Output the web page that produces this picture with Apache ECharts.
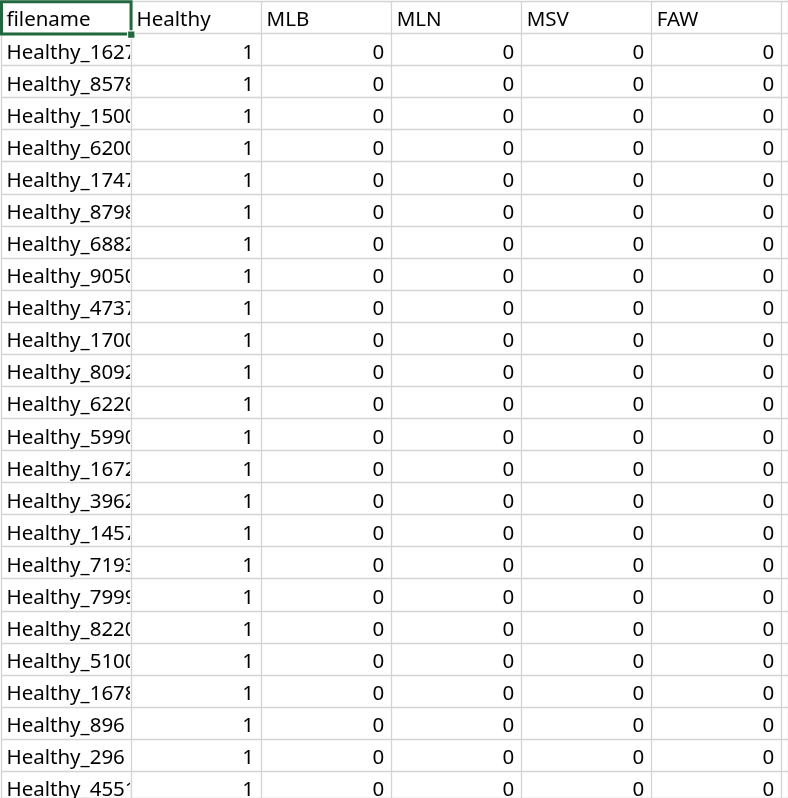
<!DOCTYPE html>
<html>
<head>
<meta charset="utf-8">
<script src="https://cdn.jsdelivr.net/npm/echarts@6/dist/echarts.min.js"></script>
<style>
html,body{margin:0;padding:0;background:#fff;}
#chart{width:788px;height:798px;}
</style>
</head>
<body>
<div id="chart"></div>
<script>
// ---- data ----
const headers = ['filename', 'Healthy', 'MLB', 'MLN', 'MSV', 'FAW'];
const filenames = [
  'Healthy_1627', 'Healthy_8578', 'Healthy_1500', 'Healthy_6200', 'Healthy_1747',
  'Healthy_8798', 'Healthy_6882', 'Healthy_9050', 'Healthy_4737', 'Healthy_1700',
  'Healthy_8092', 'Healthy_6220', 'Healthy_5990', 'Healthy_1672', 'Healthy_3962',
  'Healthy_1457', 'Healthy_7193', 'Healthy_7999', 'Healthy_8220', 'Healthy_5100',
  'Healthy_1678', 'Healthy_896', 'Healthy_296', 'Healthy_4551'
];
const healthy = [1,1,1,1,1,1,1,1,1,1,1,1,1,1,1,1,1,1,1,1,1,1,1,1];
const mlb     = [0,0,0,0,0,0,0,0,0,0,0,0,0,0,0,0,0,0,0,0,0,0,0,0];
const mln     = [0,0,0,0,0,0,0,0,0,0,0,0,0,0,0,0,0,0,0,0,0,0,0,0];
const msv     = [0,0,0,0,0,0,0,0,0,0,0,0,0,0,0,0,0,0,0,0,0,0,0,0];
const faw     = [0,0,0,0,0,0,0,0,0,0,0,0,0,0,0,0,0,0,0,0,0,0,0,0];

// ---- build cells ----
const numericCols = [healthy, mlb, mln, msv, faw];
const cells = [];
headers.forEach((h, c) => cells.push({ col: c, row: 0, text: h, align: 'left' }));
filenames.forEach((f, r) => {
  cells.push({ col: 0, row: r + 1, text: f, align: 'left' });
  numericCols.forEach((arr, k) => {
    cells.push({ col: k + 1, row: r + 1, text: String(arr[r]), align: 'right' });
  });
});

const FONT = '20.5px "Noto Sans", "Open Sans", sans-serif';
const GRID_COLOR = '#d4d4d4';
const SEL_COLOR = '#22683f';
const COL_W = 130.05, ROW_H = 32.08;
const GRID_W = 787, GRID_H = 796.7;

const chart = echarts.init(document.getElementById('chart'), null, { renderer: 'canvas' });
chart.setOption({
  animation: false,
  backgroundColor: '#ffffff',
  grid: { left: 1, top: 1.3, width: GRID_W, height: GRID_H, containLabel: false },
  xAxis: {
    type: 'value', min: 0, max: GRID_W / COL_W, interval: 1,
    axisLine: { show: false }, axisTick: { show: false }, axisLabel: { show: false },
    splitLine: { show: true, lineStyle: { color: GRID_COLOR, width: 1.3 } }
  },
  yAxis: {
    type: 'value', min: 0, max: GRID_H / ROW_H, interval: 1, inverse: true,
    axisLine: { show: false }, axisTick: { show: false }, axisLabel: { show: false },
    splitLine: { show: true, lineStyle: { color: GRID_COLOR, width: 1.3 } }
  },
  series: [{
    type: 'custom',
    clip: false,
    data: cells.map(c => [c.col, c.row]),
    renderItem: function (params, api) {
      const cell = cells[params.dataIndex];
      const col = api.value(0), row = api.value(1);
      const p0 = api.coord([col, row]);
      const p1 = api.coord([col + 1, row + 1]);
      const x0 = p0[0], y0 = p0[1], x1 = p1[0], y1 = p1[1];
      const ym = (y0 + y1) / 2 + 3.3;
      const children = [{
        type: 'text',
        style: {
          text: cell.text,
          x: cell.align === 'left' ? x0 + 5.5 : x1 - 7,
          y: ym,
          textAlign: cell.align,
          textVerticalAlign: 'middle',
          font: FONT,
          fill: '#000000'
        },
        clipPath: { type: 'rect', shape: { x: x0 + 1, y: y0, width: x1 - x0 - 2, height: y1 - y0 } }
      }];
      if (cell.col === 0 && cell.row === 0) {
        children.push({
          type: 'rect',
          shape: { x: x0 + 0.5, y: y0 + 0.5, width: x1 - x0 - 0.5, height: y1 - y0 },
          style: { fill: 'none', stroke: SEL_COLOR, lineWidth: 3 },
          z2: 10
        });
        children.push({
          type: 'rect',
          shape: { x: x1 - 3.5, y: y1 - 2.5, width: 7.5, height: 7.5 },
          style: { fill: SEL_COLOR, stroke: '#ffffff', lineWidth: 1.2 },
          z2: 11
        });
      }
      return { type: 'group', children: children };
    }
  }]
});
</script>
</body>
</html>
